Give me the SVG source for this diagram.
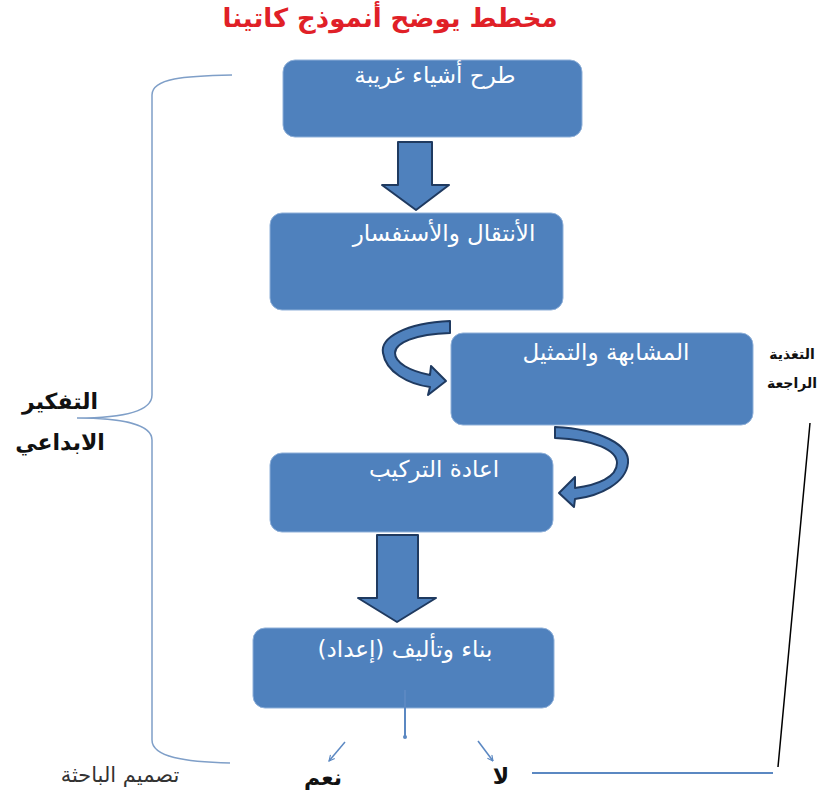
<svg xmlns="http://www.w3.org/2000/svg" width="821" height="796" viewBox="0 0 821 796">
<style>
.box{fill:#4f81bd;stroke:#8fb0d9;stroke-width:1}
.bt{fill:#ffffff;font-family:"DejaVu Sans",sans-serif;font-size:23px;text-anchor:middle;direction:rtl}
.blk{fill:#4f81bd;stroke:#1f3a60;stroke-width:2;stroke-linejoin:round}
.lbl{fill:#111;font-family:"DejaVu Sans",sans-serif;font-weight:bold;text-anchor:middle;direction:rtl}
.thin{fill:none;stroke:#5b88c2;stroke-width:1.5}
</style>
<defs>
<marker id="ah" viewBox="0 0 10 10" refX="9" refY="5" markerWidth="7" markerHeight="7" orient="auto" markerUnits="userSpaceOnUse">
<path d="M1,1 L9,5 L1,9" fill="none" stroke="#5b88c2" stroke-width="1.6"/>
</marker>
</defs>
<rect width="821" height="796" fill="#ffffff"/>
<text x="390" y="27" fill="#e02027" font-family="DejaVu Sans,sans-serif" font-size="26" font-weight="bold" text-anchor="middle" direction="rtl">مخطط يوضح أنموذج كاتينا</text>

<g id="brace"><path d="M232,75 C185,76 152,78 152,95 L152,395 C152,412 120,418 77,418 C120,418 152,424 152,440 L152,740 C152,757 185,762 230,763" fill="none" stroke="#7f9fc8" stroke-width="1.5"/></g>
<g id="label-creative">
<text class="lbl" x="60" y="409" font-size="22">التفكير</text>
<text class="lbl" x="60" y="450" font-size="22">الابداعي</text>
</g>
<g id="label-feedback">
<text class="lbl" x="792" y="359" font-size="14">التغذية</text>
<text class="lbl" x="792" y="388" font-size="14">الراجعة</text>
</g>

<g id="n1"><rect class="box" x="283" y="60" width="299" height="77" rx="12"/><text class="bt" x="435" y="83">طرح أشياء غريبة</text></g>
<g id="n2"><rect class="box" x="270" y="213" width="293" height="97" rx="12"/><text class="bt" x="444" y="241">الأنتقال والأستفسار</text></g>
<g id="n3"><rect class="box" x="451" y="333" width="302" height="92" rx="12"/><text class="bt" x="606" y="360">المشابهة والتمثيل</text></g>
<g id="n4"><rect class="box" x="270" y="453" width="283" height="79" rx="12"/><text class="bt" x="434" y="477">اعادة التركيب</text></g>
<g id="n5"><rect class="box" x="253" y="628" width="301" height="80" rx="12"/><text class="bt" x="405" y="657">بناء وتأليف (إعداد)</text></g>

<g id="connectors">
<path class="blk" d="M398,142 L432,142 L432,185 L449,185 L416,210 L382,185 L398,185 Z"/>
<path class="blk" d="M450,321 C405,323 380,338 383,353 C386,372 408,384 430,387 L428,395 L446,381 L431,366 L430,375 C410,371 395,363 395,353 C395,343 415,334 450,333 Z"/>
<path class="blk" d="M555,427 C600,429 630,445 628,463 C626,483 600,496 575,499 L574,507 L559,493 L575,477 L575,488 C598,485 617,477 617,463 C617,450 595,440 555,438 Z"/>
<path class="blk" d="M377,535 L418,535 L418,598 L436,598 L397,622 L358,598 L377,598 Z"/>
<line x1="405" y1="690" x2="405" y2="737" stroke="#5b88c2" stroke-width="2"/>
<circle cx="405" cy="737" r="2" fill="#5b88c2"/>
<line class="thin" x1="345" y1="742" x2="329" y2="761" marker-end="url(#ah)"/>
<line class="thin" x1="478" y1="741" x2="493" y2="761" marker-end="url(#ah)"/>
<line x1="532" y1="773" x2="773" y2="773" stroke="#5b88c2" stroke-width="2"/>
<line x1="810" y1="423" x2="778" y2="767" stroke="#000" stroke-width="1.5"/>
</g>

<g id="answers">
<text class="lbl" x="323" y="785" font-size="22">نعم</text>
<text class="lbl" x="501" y="784" font-size="22">لا</text>
</g>
<text x="120" y="782" fill="#333" font-family="DejaVu Sans,sans-serif" font-size="21" text-anchor="middle" direction="rtl">تصميم الباحثة</text>
</svg>
